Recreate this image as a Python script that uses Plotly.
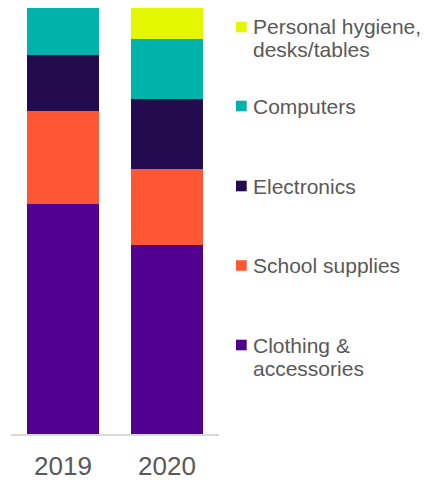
import plotly.graph_objects as go

# ---- data ----
years = ["2019", "2020"]
series_names = ["Clothing & accessories", "School supplies", "Electronics",
                "Computers", "Personal hygiene, desks/tables"]
clothing = [54.0, 44.4]
school_supplies = [21.9, 17.8]
electronics = [13.0, 16.4]
computers = [11.1, 14.1]
personal_hygiene = [0.0, 7.3]
series_values = [clothing, school_supplies, electronics, computers, personal_hygiene]
colors = ["#520090", "#FF5733", "#220C4F", "#00B2AA", "#E2F700"]
legend_lines = [["Clothing &", "accessories"], ["School supplies"], ["Electronics"],
                ["Computers"], ["Personal hygiene,", "desks/tables"]]

W, H = 436, 481
L, R, T, B = 11, 217, 8, 47
PW, PH = W - L - R, H - T - B
FONT = "Liberation Sans, Arial, sans-serif"
GRAY = "#595959"

fig = go.Figure()
for name, vals, col in zip(series_names, series_values, colors):
    fig.add_trace(go.Bar(x=years, y=vals, name=name, marker=dict(color=col, line=dict(width=0)),
                         showlegend=False))

def px_x(p):
    return (p - L) / PW

def px_y(p):
    return (H - B - p) / PH

# manual legend (top-to-bottom in reversed order)
first_line_centers = [345, 265.5, 186, 106, 27]
line_step = 23
annotations = []
shapes = []
for lines, col, cy in zip(legend_lines, colors, first_line_centers):
    shapes.append(dict(type="rect", xref="paper", yref="paper",
                       x0=px_x(236), x1=px_x(246.7), y0=px_y(cy + 5.3), y1=px_y(cy - 5.3),
                       fillcolor=col, line=dict(width=0)))
    for i, t in enumerate(lines):
        annotations.append(dict(text=t, xref="paper", yref="paper", x=px_x(250.5),
                                y=px_y(cy + i * line_step), xanchor="left", yanchor="middle",
                                showarrow=False, font=dict(family=FONT, size=21, color=GRAY)))

fig.update_layout(
    width=W, height=H, margin=dict(l=L, r=R, t=T, b=B),
    barmode="stack", bargap=0.3,
    plot_bgcolor="white", paper_bgcolor="white",
    showlegend=False,
    annotations=annotations, shapes=shapes,
    xaxis=dict(showline=True, linecolor="#d9d9d9", linewidth=1.5, ticks="",
               tickfont=dict(family=FONT, size=26, color=GRAY), showgrid=False,
               ticklabelstandoff=8, automargin=False),
    yaxis=dict(range=[0, 100], visible=False, showgrid=False, zeroline=False,
               automargin=False),
)

fig.write_html("out.html")
